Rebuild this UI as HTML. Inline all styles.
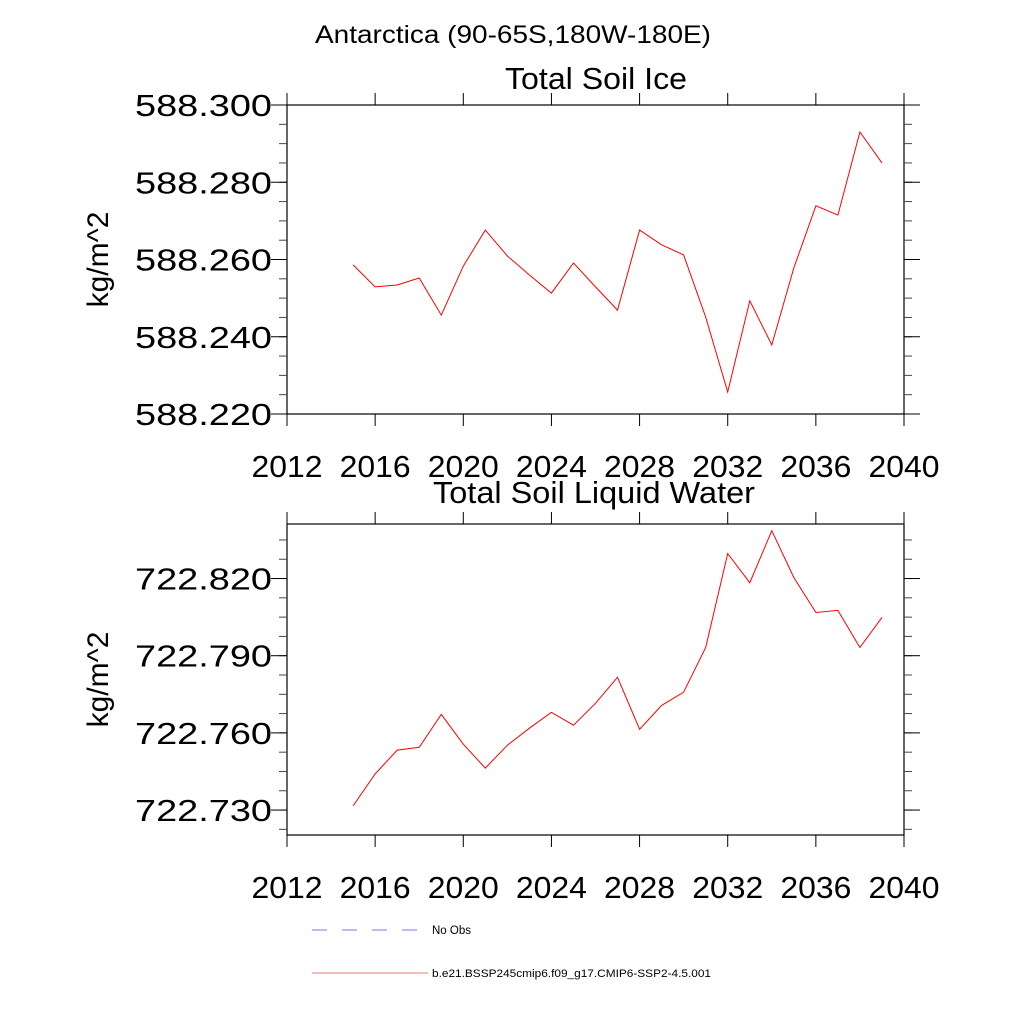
<!DOCTYPE html>
<html><head><meta charset="utf-8"><style>body{margin:0;background:#fff}svg{display:block}text{font-family:"Liberation Sans",sans-serif;fill:#000}</style></head>
<body>
<svg id="c" width="1024" height="1024" viewBox="0 0 1024 1024">
<text x="513" y="43" font-size="25" text-anchor="middle" textLength="396" lengthAdjust="spacingAndGlyphs">Antarctica (90-65S,180W-180E)</text>
<g id="g1"></g>
<g id="g2"></g>
<g>
<line x1="312" y1="930" x2="418" y2="930" stroke="#7777ee" stroke-width="1" stroke-dasharray="15,15"/>
<text x="432" y="934" font-size="11.5">No Obs</text>
<line x1="312" y1="973" x2="428" y2="973" stroke="#ee7777" stroke-width="1"/>
<text x="432" y="977" font-size="11" textLength="279" lengthAdjust="spacingAndGlyphs">b.e21.BSSP245cmip6.f09_g17.CMIP6-SSP2-4.5.001</text>
</g>
</svg>
<script>
const years = [2015,2016,2017,2018,2019,2020,2021,2022,2023,2024,2025,2026,2027,2028,2029,2030,2031,2032,2033,2034,2035,2036,2037,2038,2039];
const soilIce = [588.2586,588.2529,588.2534,588.2552,588.2456,588.2583,588.2676,588.2609,588.2560,588.2513,588.2591,588.2529,588.2469,588.2676,588.2638,588.2612,588.2451,588.2257,588.2493,588.2379,588.2578,588.2739,588.2715,588.2930,588.2850];
const soilLiquid = [722.7316,722.7440,722.7533,722.7544,722.7672,722.7556,722.7463,722.7552,722.7618,722.7680,722.7630,722.7715,722.7816,722.7614,722.7707,722.7758,722.7932,722.8297,722.8184,722.8386,722.8204,722.8068,722.8076,722.7932,722.8049];
const xTicks = [2012,2016,2020,2024,2028,2032,2036,2040];
const iceTicks = [588.220,588.240,588.260,588.280,588.300];
const liqTicks = [722.730,722.760,722.790,722.820];
const NS='http://www.w3.org/2000/svg';
function mk(parent,tag,attrs,name){const e=document.createElementNS(NS,tag);for(const k in attrs)e.setAttribute(k,attrs[k]);


parent.appendChild(e);return e;}
function panel(g,cfg){
 const L=287,R=904,T=cfg.top,B=cfg.bottom;
 const xs=v=>L+(v-2012)/(2040-2012)*(R-L);
 const ys=v=>B-(v-cfg.ymin)/(cfg.ymax-cfg.ymin)*(B-T);
 mk(g,'rect',{x:L,y:T,width:R-L,height:B-T,fill:'none',stroke:'#000','stroke-width':1.2},'plot-frame');
 xTicks.forEach(t=>{const x=xs(t);
  mk(g,'line',{x1:x,y1:T,x2:x,y2:T-12,stroke:'#000'},'x-tick-top');
  mk(g,'line',{x1:x,y1:B,x2:x,y2:B+12,stroke:'#000'},'x-tick-bottom');
  const tx=mk(g,'text',{x:x,y:B+63,'font-size':31,'text-anchor':'middle',textLength:71,lengthAdjust:'spacingAndGlyphs'},'x-tick-label');tx.textContent=t;});
 for(let v=cfg.minStart;v<=cfg.ymax+1e-9;v+=cfg.minStep){const y=ys(v);if(y<T-0.5||y>B+0.5)continue;
  mk(g,'line',{x1:L,y1:y,x2:L-8,y2:y,stroke:'#444'},'y-minor-tick-left');
  mk(g,'line',{x1:R,y1:y,x2:R+8,y2:y,stroke:'#444'},'y-minor-tick-right');}
 cfg.ticks.forEach(t=>{const y=ys(t);
  mk(g,'line',{x1:L,y1:y,x2:L-16,y2:y,stroke:'#000'},'y-tick-left');
  mk(g,'line',{x1:R,y1:y,x2:R+16,y2:y,stroke:'#000'},'y-tick-right');
  const tx=mk(g,'text',{x:272,y:y+11,'font-size':31,'text-anchor':'end',textLength:137,lengthAdjust:'spacingAndGlyphs'},'y-tick-label');tx.textContent=t.toFixed(3);});
 const pts=years.map((yr,i)=>xs(yr).toFixed(1)+','+ys(cfg.data[i]).toFixed(1)).join(' ');
 mk(g,'polyline',{points:pts,fill:'none',stroke:'#ff0000','stroke-width':1},'data-line');
 const tt=mk(g,'text',{x:cfg.titleX,y:cfg.titleY,'font-size':31,'text-anchor':'middle',textLength:cfg.titleW,lengthAdjust:'spacingAndGlyphs'},'panel-title');tt.textContent=cfg.title;
 const yl=mk(g,'text',{x:0,y:0,'font-size':30,'text-anchor':'middle',transform:`translate(108,${(T+B)/2}) rotate(-90)`},'y-axis-title');yl.textContent='kg/m^2';
}
panel(document.getElementById('g1'),{top:105,bottom:414,ymin:588.220,ymax:588.300,ticks:iceTicks,minStart:588.220,minStep:0.005,data:soilIce,title:'Total Soil Ice',titleX:596,titleY:89,titleW:182});
panel(document.getElementById('g2'),{top:524,bottom:835,ymin:722.7203,ymax:722.8412,ticks:liqTicks,minStart:722.7225,minStep:0.0075,data:soilLiquid,title:'Total Soil Liquid Water',titleX:594,titleY:503,titleW:322});
</script>
</body></html>
